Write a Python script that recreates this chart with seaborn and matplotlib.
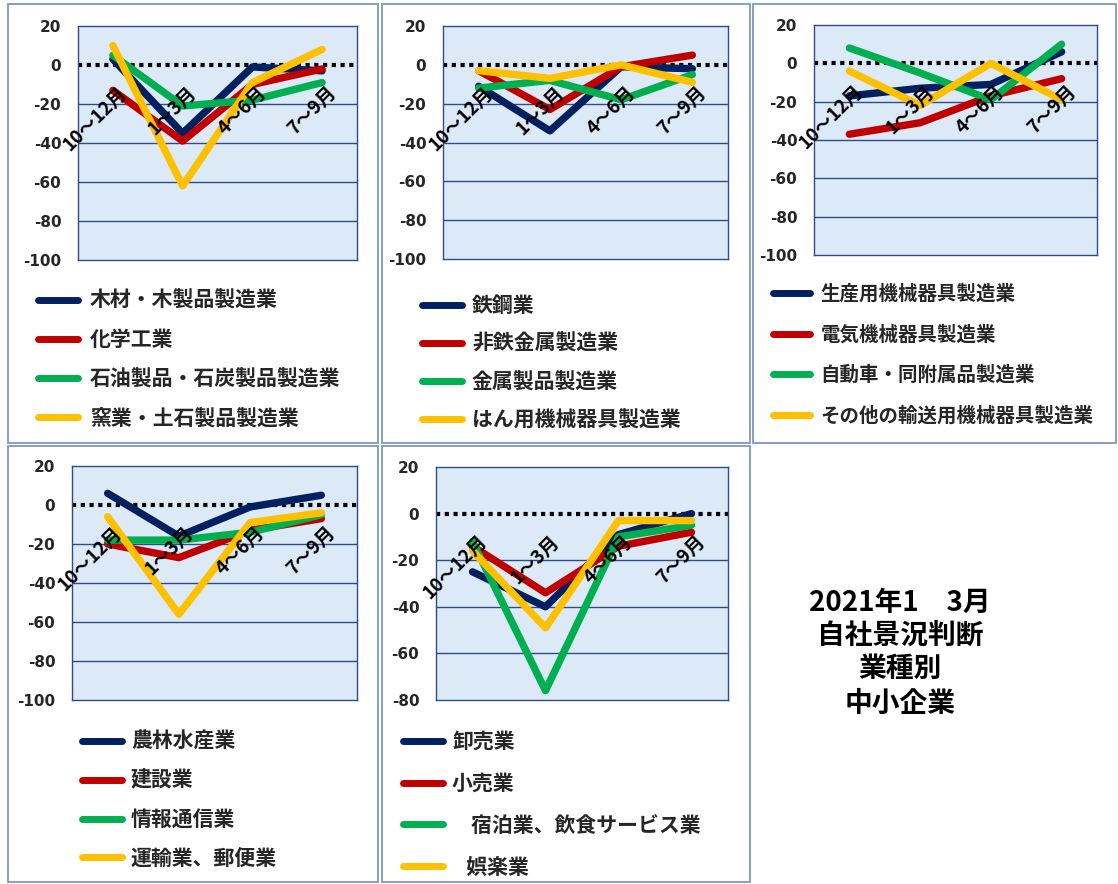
import numpy as np
import pandas as pd
import matplotlib
matplotlib.use("Agg")
import matplotlib.pyplot as plt
import seaborn as sns
from matplotlib.lines import Line2D
from matplotlib.patches import Rectangle

# ---------------- data ----------------
periods = ["10～12月", "1～3月", "4～6月", "7～9月"]

p1_names = ["木材・木製品製造業", "化学工業", "石油製品・石炭製品製造業", "窯業・土石製品製造業"]
p1_wood = [3, -35, -1, -3]
p1_chem = [-13, -39, -10, -2]
p1_oil = [5, -21, -18, -9]
p1_ceramic = [10, -62, -9, 8]

p2_names = ["鉄鋼業", "非鉄金属製造業", "金属製品製造業", "はん用機械器具製造業"]
p2_steel = [-11, -34, -1, -2]
p2_nonferrous = [-3, -23, -1, 5]
p2_metal = [-12, -8, -18, -5]
p2_general = [-3, -7, 0, -9]

p3_names = ["生産用機械器具製造業", "電気機械器具製造業", "自動車・同附属品製造業", "その他の輸送用機械器具製造業"]
p3_production = [-17, -13, -11, 6]
p3_electric = [-37, -31, -17, -8]
p3_auto = [8, -5, -19, 10]
p3_transport = [-4, -22, 0, -19]

p4_names = ["農林水産業", "建設業", "情報通信業", "運輸業、郵便業"]
p4_agri = [6, -16, -1, 5]
p4_construct = [-20, -27, -13, -7]
p4_info = [-18, -18, -14, -5]
p4_transport = [-6, -56, -9, -4]

p5_names = ["卸売業", "小売業", "    宿泊業、飲食サービス業", "   娯楽業"]
p5_wholesale = [-25, -40, -9, 0]
p5_retail = [-14, -34, -14, -8]
p5_hotel = [-12, -76, -10, -5]
p5_leisure = [-16, -49, -3, -3]

yticks_a = [20, 0, -20, -40, -60, -80, -100]
yticks_b = [20, 0, -20, -40, -60, -80]

title_lines = ["2021年1\u30003月", "自社景況判断", "業種別", "中小企業"]

# ---------------- style ----------------
sns.set_style("white")
plt.rcParams["font.family"] = ["Noto Sans CJK JP", "DejaVu Sans"]

series_colors = ["#002060", "#C00000", "#00B050", "#FFC000"]
plot_bg = "#DCE9F6"
grid_col = "#2F4B8F"
box_col = "#7F96C4"

W, H = 1118, 884
fig = plt.figure(figsize=(W / 100, H / 100), dpi=100)


def fx(px):
    return px / W


def fy(py):
    return 1 - py / H


# panel frames
for (x0, y0, x1, y1) in [(8, 4, 378, 443), (382, 4, 750, 443), (753, 4, 1116, 443),
                         (8, 446, 378, 882), (382, 446, 750, 882)]:
    fig.add_artist(Rectangle((fx(x0), fy(y1)), fx(x1 - x0), (y1 - y0) / H,
                             transform=fig.transFigure, fill=False,
                             ec=box_col, lw=1.3))


def draw_panel(px_rect, names, series, yticks, leg_anchor, leg_fs, leg_spacing, leg_pad):
    x0, y0, x1, y1 = px_rect
    ax = fig.add_axes([fx(x0), fy(y1), fx(x1 - x0), (y1 - y0) / H])
    ax.set_facecolor(plot_bg)
    df = pd.DataFrame({
        "期間": periods * len(names),
        "値": [v for s in series for v in s],
        "業種": [n for n in names for _ in periods],
    })
    ax.axhline(0, color="black", lw=3, linestyle=(0, (1, 1.1)), zorder=2,
               dash_capstyle="butt")
    sns.lineplot(data=df, x="期間", y="値", hue="業種", hue_order=names,
                 palette=dict(zip(names, series_colors)), sort=False,
                 lw=5.3, ax=ax, legend=False, zorder=3,
                 solid_capstyle="round")
    ax.set_xlim(-0.5, len(periods) - 0.5)
    ax.set_ylim(min(yticks), max(yticks))
    ax.set_yticks(yticks)
    ax.set_yticklabels([str(t) for t in yticks], fontsize=11,
                       fontweight="bold", family="DejaVu Sans")
    ax.tick_params(axis="y", length=0, pad=12)
    ax.set_xticks([])
    ax.set_xlabel("")
    ax.set_ylabel("")
    for t in yticks:
        if t not in (0, min(yticks), max(yticks)):
            ax.axhline(t, color=grid_col, lw=1, zorder=1)
    for sp in ax.spines.values():
        sp.set_color(grid_col)
        sp.set_linewidth(1)
    for i, lab in enumerate(periods):
        ax.annotate(lab, xy=(i, 0), xycoords="data", xytext=(3, -13),
                    textcoords="offset points", rotation=45, ha="right",
                    va="top", rotation_mode="anchor", fontsize=13.5,
                    fontweight="bold", color="black", zorder=5,
                    annotation_clip=False)
    handles = [Line2D([], [], color=c, lw=5, solid_capstyle="round") for c in series_colors]
    ax.legend(handles, names, loc="upper left",
              bbox_to_anchor=(fx(leg_anchor[0]), fy(leg_anchor[1])),
              bbox_transform=fig.transFigure, frameon=False,
              prop={"size": leg_fs, "weight": "bold"},
              borderpad=0, borderaxespad=0, handlelength=1.9,
              handletextpad=leg_pad, labelspacing=leg_spacing)
    return ax


draw_panel((78, 26, 357, 260), p1_names, [p1_wood, p1_chem, p1_oil, p1_ceramic],
           yticks_a, (38, 290), 15, 0.87, 0.6)
draw_panel((443, 26, 728, 259), p2_names, [p2_steel, p2_nonferrous, p2_metal, p2_general],
           yticks_a, (422, 295), 15, 0.82, 0.5)
draw_panel((814, 25, 1097, 255), p3_names, [p3_production, p3_electric, p3_auto, p3_transport],
           yticks_a, (773, 284), 14, 1.1, 0.55)
draw_panel((72, 466, 357, 700), p4_names, [p4_agri, p4_construct, p4_info, p4_transport],
           yticks_a, (82, 731), 15, 0.86, 0.45)
draw_panel((436, 467, 728, 700), p5_names, [p5_wholesale, p5_retail, p5_hotel, p5_leisure],
           yticks_b, (403, 731), 15, 1.0, 0.45)

for line, ypx in zip(title_lines, [603, 636, 669, 704]):
    fig.text(fx(900), fy(ypx), line, ha="center", va="center",
             fontsize=20, fontweight="bold", color="black")

fig.savefig("out.png", dpi=100)
